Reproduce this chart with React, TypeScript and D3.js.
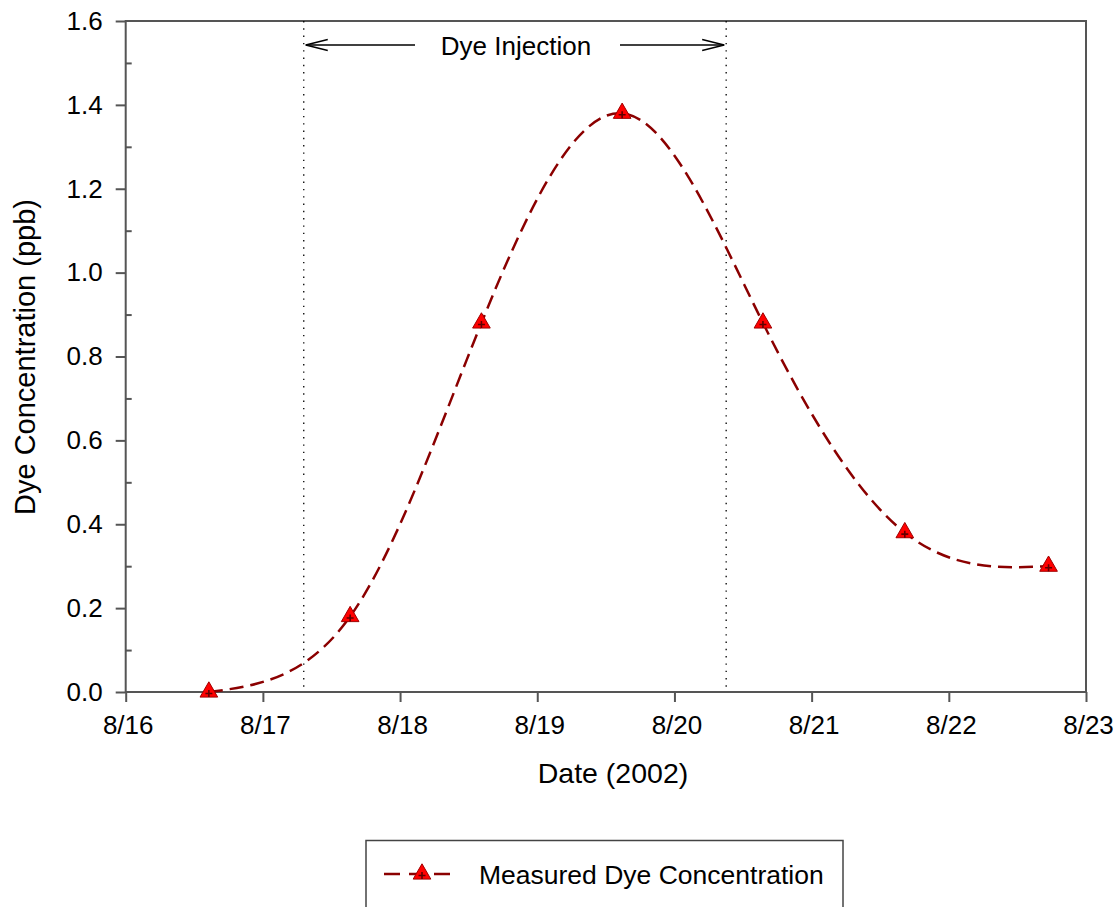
import { useEffect, useRef } from 'react';
import * as d3 from 'd3';

// sampling times and measured concentrations (ppb)
const sampleTimes = [
  '2002-08-16T14:33',
  '2002-08-17T15:16',
  '2002-08-18T14:14',
  '2002-08-19T14:51',
  '2002-08-20T15:29',
  '2002-08-21T16:18',
  '2002-08-22T17:27',
];
const concentrations = [0.0, 0.18, 0.88, 1.38, 0.88, 0.38, 0.30];

// injection window (dotted lines)
const injectionStart = '2002-08-17T07:09';
const injectionEnd = '2002-08-20T09:03';

const xDomain = ['2002-08-16T00:00', '2002-08-23T00:00'];
const yMajorTicks = [0, 0.2, 0.4, 0.6, 0.8, 1.0, 1.2, 1.4, 1.6];
const yMinorTicks = [0.1, 0.3, 0.5, 0.7, 0.9, 1.1, 1.3, 1.5];

const seriesLabel = 'Measured Dye Concentration';
const font = '"Liberation Sans", Arial, sans-serif';
const lineColor = '#8b0000';

const App = () => {
  const svgRef = useRef<SVGSVGElement>(null);

  useEffect(() => {
    if (!svgRef.current) return;
    const svg = d3.select(svgRef.current);
    svg.selectAll('*').remove();

    const left = 125.7, right = 1086, top = 21, bottom = 692;

    const x = d3.scaleTime()
      .domain(xDomain.map(d => new Date(d)))
      .range([left, right]);
    const y = d3.scaleLinear().domain([0, 1.6]).range([bottom, top]);

    const data = sampleTimes.map((t, i) => ({ date: new Date(t), value: concentrations[i] }));

    // x axis
    const xAxis = svg.append('g')
      .attr('transform', `translate(0,${bottom})`)
      .call(d3.axisBottom(x)
        .ticks(d3.timeDay.every(1))
        .tickFormat(d3.timeFormat('%-m/%-d') as any)
        .tickSize(10)
        .tickSizeOuter(0)
        .tickPadding(14));
    xAxis.select('.domain').remove();
    xAxis.selectAll('line').attr('stroke', '#555').attr('stroke-width', 2);
    xAxis.selectAll('text')
      .attr('font-family', font).attr('font-size', 26).attr('fill', '#000')
      .attr('dx', 2);

    // y axis
    const yAxis = svg.append('g')
      .attr('transform', `translate(${left},0)`)
      .call(d3.axisLeft(y)
        .tickValues(yMajorTicks)
        .tickFormat(d3.format('.1f'))
        .tickSize(10)
        .tickSizeOuter(0)
        .tickPadding(13));
    yAxis.select('.domain').remove();
    yAxis.selectAll('line').attr('stroke', '#555').attr('stroke-width', 2);
    yAxis.selectAll('text')
      .attr('font-family', font).attr('font-size', 26).attr('fill', '#000');

    const yMinor = svg.append('g')
      .attr('transform', `translate(${left},0)`)
      .call(d3.axisRight(y).tickValues(yMinorTicks).tickFormat(() => '').tickSize(6).tickSizeOuter(0));
    yMinor.select('.domain').remove();
    yMinor.selectAll('line').attr('stroke', '#555').attr('stroke-width', 2);

    // frame
    svg.append('rect')
      .attr('x', left).attr('y', top)
      .attr('width', right - left).attr('height', bottom - top)
      .attr('fill', 'none').attr('stroke', '#555').attr('stroke-width', 2);

    // injection window
    [injectionStart, injectionEnd].forEach(t => {
      svg.append('line')
        .attr('x1', x(new Date(t))).attr('x2', x(new Date(t)))
        .attr('y1', top).attr('y2', bottom)
        .attr('stroke', '#000').attr('stroke-width', 1.3)
        .attr('stroke-dasharray', '1.4 5.9');
    });

    const x0 = x(new Date(injectionStart)) + 2;
    const x1 = x(new Date(injectionEnd)) - 2;
    const arrowY = 45;
    svg.append('text')
      .attr('x', 516).attr('y', 55)
      .attr('text-anchor', 'middle')
      .attr('font-family', font).attr('font-size', 26)
      .text('Dye Injection');
    const arrow = svg.append('g').attr('stroke', '#000').attr('stroke-width', 1.3).attr('fill', 'none');
    arrow.append('line').attr('x1', x0).attr('x2', 415).attr('y1', arrowY).attr('y2', arrowY);
    arrow.append('line').attr('x1', 620).attr('x2', x1).attr('y1', arrowY).attr('y2', arrowY);
    arrow.append('path').attr('d', `M${x0 + 22},${arrowY - 5.5}L${x0},${arrowY}L${x0 + 22},${arrowY + 5.5}`);
    arrow.append('path').attr('d', `M${x1 - 22},${arrowY - 5.5}L${x1},${arrowY}L${x1 - 22},${arrowY + 5.5}`);

    // spline
    const line = d3.line<{ date: Date; value: number }>()
      .x(d => x(d.date))
      .y(d => y(d.value))
      .curve(d3.curveNatural);
    svg.append('path')
      .datum(data)
      .attr('d', line)
      .attr('fill', 'none')
      .attr('stroke', lineColor)
      .attr('stroke-width', 2.5)
      .attr('stroke-dasharray', '14 7');

    const tri = d3.symbol().type(d3.symbolTriangle).size(135)();
    const drawMarker = (g: any) => {
      g.append('path').attr('d', tri).attr('fill', '#ff0000').attr('stroke', '#a00000').attr('stroke-width', 1);
      g.append('path').attr('d', 'M-3.5,1.5H3.5M0,-2V5').attr('stroke', '#600000').attr('stroke-width', 1.6);
    };
    svg.selectAll('.marker')
      .data(data)
      .enter()
      .append('g')
      .attr('class', 'marker')
      .attr('transform', d => `translate(${x(d.date)},${y(d.value)})`)
      .each(function () { drawMarker(d3.select(this)); });

    // axis titles
    svg.append('text')
      .attr('x', 613).attr('y', 783)
      .attr('text-anchor', 'middle')
      .attr('font-family', font).attr('font-size', 28.5)
      .text('Date (2002)');
    svg.append('text')
      .attr('transform', 'translate(35,357) rotate(-90)')
      .attr('text-anchor', 'middle')
      .attr('font-family', font).attr('font-size', 29)
      .text('Dye Concentration (ppb)');

    // legend
    svg.append('rect')
      .attr('x', 366).attr('y', 840.5)
      .attr('width', 477).attr('height', 100)
      .attr('fill', '#fff').attr('stroke', '#444').attr('stroke-width', 1.5);
    svg.append('line')
      .attr('x1', 384).attr('x2', 452).attr('y1', 874).attr('y2', 874)
      .attr('stroke', lineColor).attr('stroke-width', 2.5)
      .attr('stroke-dasharray', '16 9');
    drawMarker(svg.append('g').attr('transform', 'translate(422,874)'));
    svg.append('text')
      .attr('x', 479).attr('y', 884)
      .attr('font-family', font).attr('font-size', 26.5)
      .text(seriesLabel);
  }, []);

  return (
    <svg
      ref={svgRef}
      width={1118}
      height={907}
      viewBox="0 0 1118 907"
      style={{ position: 'absolute', left: 0, top: 0, background: '#fff' }}
    />
  );
};

export default App;
